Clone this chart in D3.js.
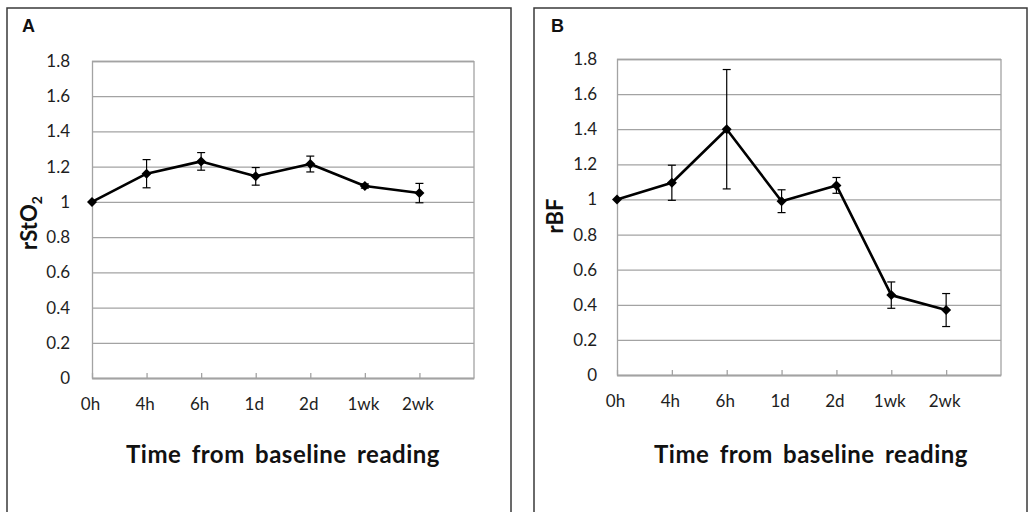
<!DOCTYPE html>
<html>
<head>
<meta charset="utf-8">
<script src="https://cdn.jsdelivr.net/npm/d3@7"></script>
<style>
  body { margin: 0; background: #fff; }
  .tick text { font-family: Lato, "Open Sans", sans-serif; font-size: 17px; fill: #1e1e1e; }
  .axisTitle { font-family: Lato, "Open Sans", sans-serif; font-weight: bold; font-size: 22px; fill: #111; }
  .xTitle { font-size: 24px; letter-spacing: 0.5px; word-spacing: 4px; }
  .panelLetter { font-family: "Liberation Sans", Arial, sans-serif; font-weight: bold; font-size: 18px; fill: #111; }
</style>
</head>
<body>
<div id="chart"></div>
<script>
// data
var timePoints = ["0h", "4h", "6h", "1d", "2d", "1wk", "2wk"];

var rsto2Mean = [1.0, 1.16, 1.23, 1.145, 1.215, 1.09, 1.05];
var rsto2Err  = [0, 0.08, 0.05, 0.05, 0.045, 0.012, 0.055];

var rbfMean = [1.0, 1.095, 1.40, 0.99, 1.08, 0.455, 0.37];
var rbfErr  = [0, 0.10, 0.34, 0.065, 0.045, 0.075, 0.094];

var yTicks = [0, 0.2, 0.4, 0.6, 0.8, 1, 1.2, 1.4, 1.6, 1.8];

var width = 1029;
var height = 512;

var svg = d3.select("#chart")
    .append("svg")
    .attr("width", width)
    .attr("height", height);

var gridColor = "#a3a3a3";

function drawPanel(p) {
    var g = svg.append("g");

    // panel frame
    g.append("rect")
        .attr("x", p.frame[0])
        .attr("y", p.frame[1])
        .attr("width", p.frame[2] - p.frame[0])
        .attr("height", p.frame[3] - p.frame[1])
        .attr("fill", "none")
        .attr("stroke", "#3a3a3a")
        .attr("stroke-width", 1.5);

    g.append("text")
        .attr("class", "panelLetter")
        .attr("x", p.letter[0])
        .attr("y", p.letter[1])
        .text(p.name);

    // one extra empty slot on the right, like the original
    var xScale = d3.scaleLinear()
        .domain([0, timePoints.length])
        .range([p.left, p.right]);

    var yScale = d3.scaleLinear()
        .domain([0, 1.8])
        .range([p.bottom, p.top]);

    // gridlines + y labels
    var yAxis = d3.axisLeft(yScale)
        .tickValues(yTicks)
        .tickSize(-(p.right - p.left))
        .tickPadding(p.ypad)
        .tickFormat(function (d) { return +d.toFixed(1); });

    var yG = g.append("g")
        .attr("transform", `translate(${p.left},0)`)
        .call(yAxis);
    yG.select(".domain").attr("stroke", gridColor).attr("stroke-width", 1.3);
    yG.selectAll(".tick line").attr("stroke", gridColor).attr("stroke-width", 1.3);
    yG.selectAll(".tick text").attr("x", -p.ypad);

    // right border of plot area
    g.append("line")
        .attr("x1", p.right).attr("x2", p.right)
        .attr("y1", p.top).attr("y2", p.bottom)
        .attr("stroke", gridColor)
        .attr("stroke-width", 1.3);

    // x axis, ticks point up into the plot
    var xAxis = d3.axisBottom(xScale)
        .tickValues(d3.range(timePoints.length))
        .tickSizeInner(-5)
        .tickSizeOuter(0)
        .tickPadding(20)
        .tickFormat(function (i) { return timePoints[i]; });

    var xG = g.append("g")
        .attr("transform", `translate(0,${p.bottom})`)
        .call(xAxis);
    xG.select(".domain").attr("stroke", gridColor).attr("stroke-width", 1.3);
    xG.selectAll(".tick line").attr("stroke", gridColor).attr("stroke-width", 1.3);
    xG.selectAll(".tick text").attr("dx", -2);

    var rows = p.mean.map(function (m, i) {
        return { i: i, m: m, e: p.err[i] };
    });

    // error bars
    var eb = g.append("g").attr("stroke", "#000").attr("stroke-width", 1.2);
    rows.filter(function (d) { return d.e > 0; }).forEach(function (d) {
        var cx = xScale(d.i);
        var y1 = yScale(d.m + d.e);
        var y2 = yScale(d.m - d.e);
        eb.append("line").attr("x1", cx).attr("x2", cx).attr("y1", y1).attr("y2", y2);
        eb.append("line").attr("x1", cx - 4).attr("x2", cx + 4).attr("y1", y1).attr("y2", y1);
        eb.append("line").attr("x1", cx - 4).attr("x2", cx + 4).attr("y1", y2).attr("y2", y2);
    });

    var line = d3.line()
        .x(function (d) { return xScale(d.i); })
        .y(function (d) { return yScale(d.m); });

    g.append("path")
        .datum(rows)
        .attr("d", line)
        .attr("fill", "none")
        .attr("stroke", "#000")
        .attr("stroke-width", 2.6)
        .attr("stroke-linejoin", "round");

    // diamond markers
    g.selectAll(".marker")
        .data(rows)
        .enter()
        .append("path")
        .attr("class", "marker")
        .attr("d", d3.symbol(d3.symbolSquare, 50))
        .attr("transform", function (d) {
            return `translate(${xScale(d.i)},${yScale(d.m)}) rotate(45)`;
        })
        .attr("fill", "#000");

    // axis titles
    g.append("text")
        .attr("class", "axisTitle xTitle")
        .attr("text-anchor", "middle")
        .attr("x", p.xTitle[0])
        .attr("y", p.xTitle[1])
        .text("Time from baseline reading");

    var yt = g.append("text")
        .attr("class", "axisTitle")
        .attr("text-anchor", "middle")
        .attr("transform", `translate(${p.yTitle[0]},${p.yTitle[1]}) rotate(-90)`);
    yt.append("tspan").text(p.yLabel);
    if (p.ySub) {
        yt.append("tspan")
            .attr("dy", 5)
            .attr("font-size", 14)
            .text(p.ySub);
    }
}

drawPanel({
    name: "A",
    frame: [7, 8, 511, 530],
    letter: [22, 32],
    left: 92, right: 474, top: 61, bottom: 378,
    ypad: 22,
    mean: rsto2Mean, err: rsto2Err,
    xTitle: [283, 463],
    yTitle: [37, 223],
    yLabel: "rStO", ySub: "2"
});

drawPanel({
    name: "B",
    frame: [534, 8, 1027, 530],
    letter: [551, 32],
    left: 617, right: 1001, top: 59, bottom: 375,
    ypad: 20,
    mean: rbfMean, err: rbfErr,
    xTitle: [811, 463],
    yTitle: [563, 216],
    yLabel: "rBF", ySub: null
});
</script>
</body>
</html>
